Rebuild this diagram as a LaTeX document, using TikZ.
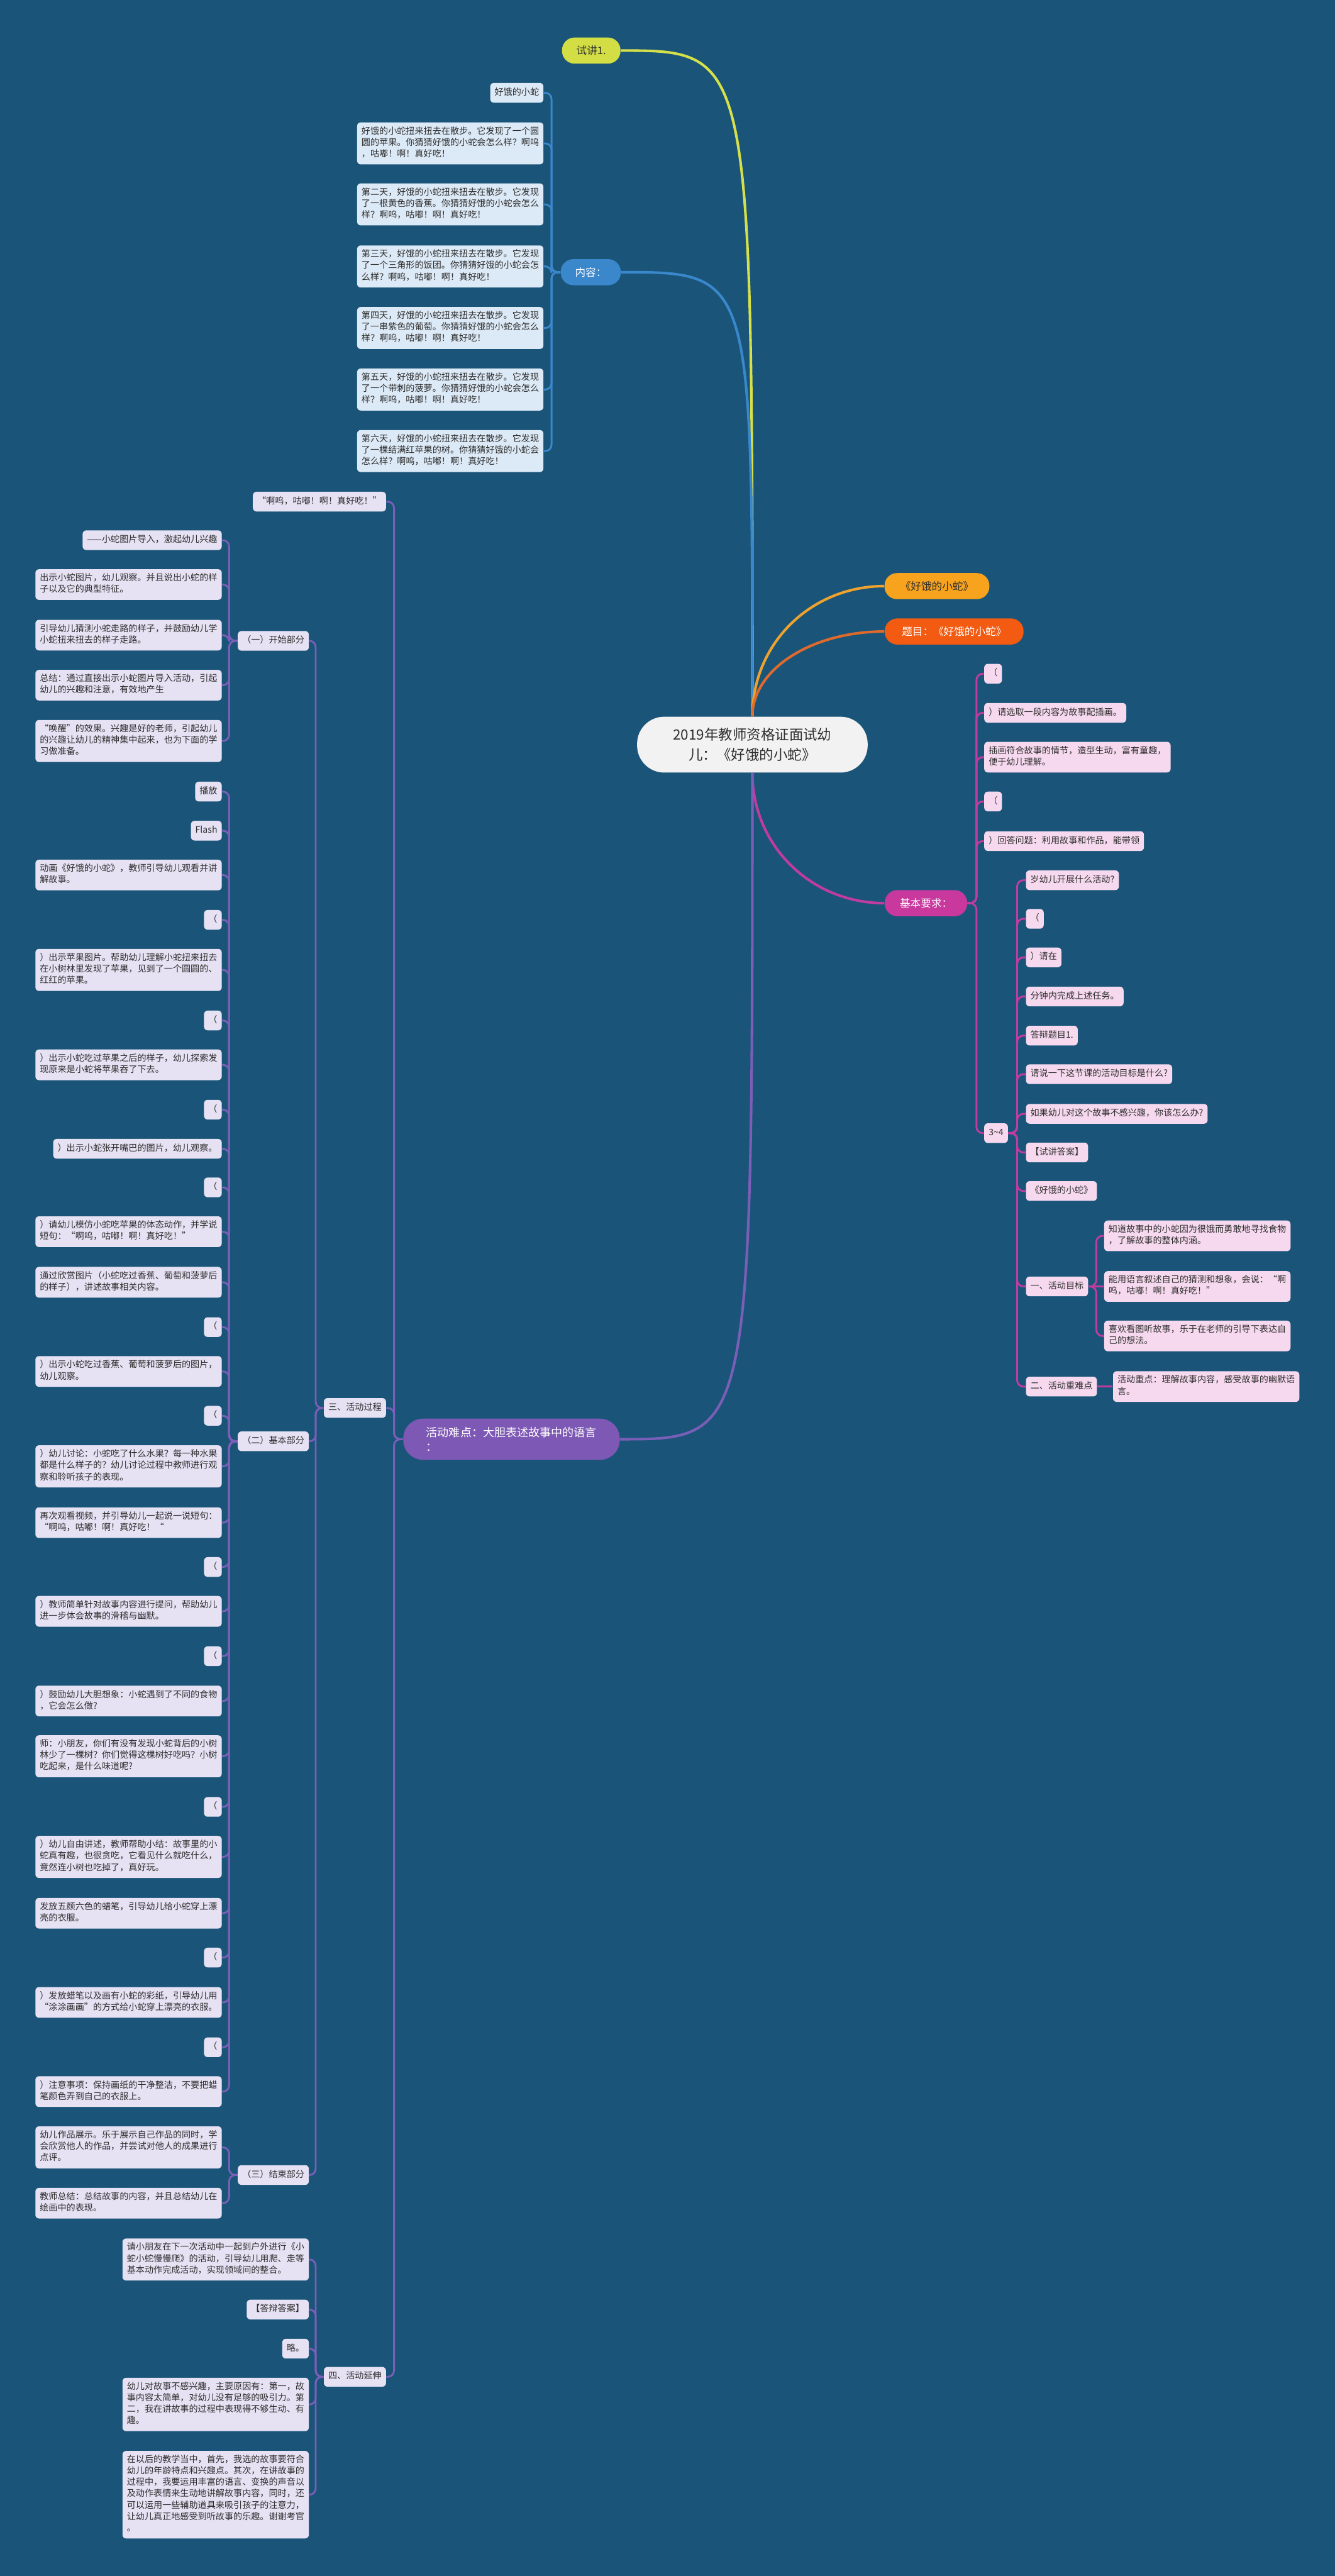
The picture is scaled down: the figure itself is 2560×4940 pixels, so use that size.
\documentclass[tikz,border=0pt]{standalone}
\usepackage{fontspec}
\setmainfont{Noto Sans CJK SC}

\definecolor{bgblue}{HTML}{1A5579}
\definecolor{rootfill}{HTML}{F2F2F2}
\definecolor{textdark}{HTML}{2E2E2E}
\definecolor{limefill}{HTML}{D3DE44}
\definecolor{limeline}{HTML}{D6E04A}
\definecolor{bluebranch}{HTML}{3A87CC}
\definecolor{orangefill}{HTML}{F8A31D}
\definecolor{orangeline}{HTML}{EFA22E}
\definecolor{redfill}{HTML}{F35A12}
\definecolor{redline}{HTML}{E06A2C}
\definecolor{magentafill}{HTML}{C9389D}
\definecolor{magentaline}{HTML}{C13C9E}
\definecolor{purplefill}{HTML}{7D58B4}
\definecolor{purpleline}{HTML}{7A5EB7}
\definecolor{bluefill}{HTML}{DCE9F6}
\definecolor{pinkfill}{HTML}{F6D9EE}
\definecolor{lilacfill}{HTML}{E6E1F3}

\begin{document}
\begin{tikzpicture}[
    x=0.01cm,
    y=-0.01cm,
    root/.style={
        fill=rootfill,
        text=textdark,
        rounded corners=0.52cm,
        align=center,
        inner sep=0pt,
        minimum width=4.42cm,
        minimum height=1.07cm,
        font=\fontsize{7.7}{11.1}\selectfont
    },
    branch/.style={
        text=white,
        rounded corners=0.24cm,
        inner sep=0pt,
        minimum height=0.5cm,
        font=\fontsize{5.7}{7}\selectfont
    },
    leaf/.style={
        rounded corners=0.07cm,
        inner xsep=0.085cm,
        inner ysep=0.08cm,
        align=left,
        text=textdark,
        font=\fontsize{4.84}{6.2}\selectfont,
        execute at begin node=\strut,
        execute at end node=\strut
    },
    blueleaf/.style={leaf, fill=bluefill, anchor=east},
    pinkleaf/.style={leaf, fill=pinkfill, anchor=west},
    lilacleaf/.style={leaf, fill=lilacfill, anchor=east},
    stem/.style={line width=1.4pt},
    link/.style={line width=1pt, rounded corners=0.12cm}
]
    % canvas
    \fill[bgblue] (0,0) rectangle (2560,4940);
    \useasboundingbox (0,0) rectangle (2560,4940);

    % centre
    \node[root] (title) at (1443,1428) {2019年教师资格证面试幼\\儿：《好饿的小蛇》};

    % main branches
    \node[branch,fill=limefill,text=textdark,minimum width=1.12cm] (shijiang) at (1134,97) {试讲1.};
    \node[branch,fill=bluebranch,minimum width=1.15cm] (neirong) at (1133,522) {内容：};
    \node[branch,fill=orangefill,text=textdark,minimum width=2.01cm] (book) at (1797,1124) {《好饿的小蛇》};
    \node[branch,fill=redfill,minimum width=2.66cm] (timu) at (1830,1211) {题目：《好饿的小蛇》};
    \node[branch,fill=magentafill,minimum width=1.58cm] (yaoqiu) at (1776,1732) {基本要求：};
    \node[branch,fill=purplefill,rounded corners=0.38cm,minimum width=4.15cm,minimum height=0.79cm,
        align=left,font=\fontsize{6.2}{8}\selectfont] (nandian) at (981,2760) {活动难点：大胆表述故事中的语言\\：};

    % story (blue)
    \node[blueleaf] (n1) at (1043,178) {好饿的小蛇};
    \node[blueleaf] (n2) at (1043,275) {好饿的小蛇扭来扭去在散步。它发现了一个圆\\圆的苹果。你猜猜好饿的小蛇会怎么样？啊呜\\，咕嘟！啊！真好吃！};
    \node[blueleaf] (n3) at (1043,392) {第二天，好饿的小蛇扭来扭去在散步。它发现\\了一根黄色的香蕉。你猜猜好饿的小蛇会怎么\\样？啊呜，咕嘟！啊！真好吃！};
    \node[blueleaf] (n4) at (1043,511) {第三天，好饿的小蛇扭来扭去在散步。它发现\\了一个三角形的饭团。你猜猜好饿的小蛇会怎\\么样？啊呜，咕嘟！啊！真好吃！};
    \node[blueleaf] (n5) at (1043,629) {第四天，好饿的小蛇扭来扭去在散步。它发现\\了一串紫色的葡萄。你猜猜好饿的小蛇会怎么\\样？啊呜，咕嘟！啊！真好吃！};
    \node[blueleaf] (n6) at (1043,747) {第五天，好饿的小蛇扭来扭去在散步。它发现\\了一个带刺的菠萝。你猜猜好饿的小蛇会怎么\\样？啊呜，咕嘟！啊！真好吃！};
    \node[blueleaf] (n7) at (1043,865) {第六天，好饿的小蛇扭来扭去在散步。它发现\\了一棵结满红苹果的树。你猜猜好饿的小蛇会\\怎么样？啊呜，咕嘟！啊！真好吃！};

    % requirements (pink)
    \node[pinkleaf] (r1) at (1887,1292) {（};
    \node[pinkleaf] (r2) at (1887,1367) {）请选取一段内容为故事配插画。};
    \node[pinkleaf] (r3) at (1887,1452) {插画符合故事的情节，造型生动，富有童趣，\\便于幼儿理解。};
    \node[pinkleaf] (r4) at (1887,1537) {（};
    \node[pinkleaf] (r5) at (1887,1613) {）回答问题：利用故事和作品，能带领};
    \node[pinkleaf] (age) at (1887,2173) {3\textasciitilde4};

    \node[pinkleaf] (a1) at (1967,1688) {岁幼儿开展什么活动?};
    \node[pinkleaf] (a2) at (1967,1762) {（};
    \node[pinkleaf] (a3) at (1967,1836) {）请在};
    \node[pinkleaf] (a4) at (1967,1911) {分钟内完成上述任务。};
    \node[pinkleaf] (a5) at (1967,1986) {答辩题目1.};
    \node[pinkleaf] (a6) at (1967,2060) {请说一下这节课的活动目标是什么?};
    \node[pinkleaf] (a7) at (1967,2136) {如果幼儿对这个故事不感兴趣，你该怎么办?};
    \node[pinkleaf] (a8) at (1967,2210) {【试讲答案】};
    \node[pinkleaf] (a9) at (1967,2284) {《好饿的小蛇》};
    \node[pinkleaf] (mubiao) at (1967,2467) {一、活动目标};
    \node[pinkleaf] (zhongdian) at (1967,2659) {二、活动重难点};

    \node[pinkleaf] (g1) at (2117,2370) {知道故事中的小蛇因为很饿而勇敢地寻找食物\\，了解故事的整体内涵。};
    \node[pinkleaf] (g2) at (2117,2467) {能用语言叙述自己的猜测和想象，会说：“啊\\呜，咕嘟！啊！真好吃！”};
    \node[pinkleaf] (g3) at (2117,2562) {喜欢看图听故事，乐于在老师的引导下表达自\\己的想法。};
    \node[pinkleaf] (z1) at (2134,2659) {活动重点：理解故事内容，感受故事的幽默语\\言。};

    % lesson (lilac)
    \node[lilacleaf] (k0) at (741,962) {“啊呜，咕嘟！啊！真好吃！”};
    \node[lilacleaf] (guocheng) at (741,2700) {三、活动过程};
    \node[lilacleaf] (yanshen) at (741,4558) {四、活动延伸};

    \node[lilacleaf] (s1) at (593,1229) {（一）开始部分};
    \node[lilacleaf] (s2) at (593,2764) {（二）基本部分};
    \node[lilacleaf] (s3) at (593,4171) {（三）结束部分};

    \node[lilacleaf] (p1) at (426,1036) {——小蛇图片导入，激起幼儿兴趣};
    \node[lilacleaf] (p2) at (426,1121) {出示小蛇图片，幼儿观察。并且说出小蛇的样\\子以及它的典型特征。};
    \node[lilacleaf] (p3) at (426,1218) {引导幼儿猜测小蛇走路的样子，并鼓励幼儿学\\小蛇扭来扭去的样子走路。};
    \node[lilacleaf] (p4) at (426,1314) {总结：通过直接出示小蛇图片导入活动，引起\\幼儿的兴趣和注意，有效地产生};
    \node[lilacleaf] (p5) at (426,1421) {“唤醒”的效果。兴趣是好的老师，引起幼儿\\的兴趣让幼儿的精神集中起来，也为下面的学\\习做准备。};

    \node[lilacleaf] (b1) at (426,1518) {播放};
    \node[lilacleaf] (b2) at (426,1593) {Flash};
    \node[lilacleaf] (b3) at (426,1678) {动画《好饿的小蛇》，教师引导幼儿观看并讲\\解故事。};
    \node[lilacleaf] (b4) at (426,1764) {（};
    \node[lilacleaf] (b5) at (426,1860) {）出示苹果图片。帮助幼儿理解小蛇扭来扭去\\在小树林里发现了苹果，见到了一个圆圆的、\\红红的苹果。};
    \node[lilacleaf] (b6) at (426,1957) {（};
    \node[lilacleaf] (b7) at (426,2042) {）出示小蛇吃过苹果之后的样子，幼儿探索发\\现原来是小蛇将苹果吞了下去。};
    \node[lilacleaf] (b8) at (426,2128) {（};
    \node[lilacleaf] (b9) at (426,2203) {）出示小蛇张开嘴巴的图片，幼儿观察。};
    \node[lilacleaf] (b10) at (426,2277) {（};
    \node[lilacleaf] (b11) at (426,2362) {）请幼儿模仿小蛇吃苹果的体态动作，并学说\\短句：“啊呜，咕嘟！啊！真好吃！”};
    \node[lilacleaf] (b12) at (426,2459) {通过欣赏图片（小蛇吃过香蕉、葡萄和菠萝后\\的样子），讲述故事相关内容。};
    \node[lilacleaf] (b13) at (426,2545) {（};
    \node[lilacleaf] (b14) at (426,2630) {）出示小蛇吃过香蕉、葡萄和菠萝后的图片，\\幼儿观察。};
    \node[lilacleaf] (b15) at (426,2715) {（};
    \node[lilacleaf] (b16) at (426,2812) {）幼儿讨论：小蛇吃了什么水果？每一种水果\\都是什么样子的？幼儿讨论过程中教师进行观\\察和聆听孩子的表现。};
    \node[lilacleaf] (b17) at (426,2920) {再次观看视频，并引导幼儿一起说一说短句：\\“啊呜，咕嘟！啊！真好吃！“};
    \node[lilacleaf] (b18) at (426,3005) {（};
    \node[lilacleaf] (b19) at (426,3090) {）教师简单针对故事内容进行提问，帮助幼儿\\进一步体会故事的滑稽与幽默。};
    \node[lilacleaf] (b20) at (426,3176) {（};
    \node[lilacleaf] (b21) at (426,3262) {）鼓励幼儿大胆想象：小蛇遇到了不同的食物\\，它会怎么做?};
    \node[lilacleaf] (b22) at (426,3368) {师：小朋友，你们有没有发现小蛇背后的小树\\林少了一棵树？你们觉得这棵树好吃吗？小树\\吃起来，是什么味道呢?};
    \node[lilacleaf] (b23) at (426,3465) {（};
    \node[lilacleaf] (b24) at (426,3561) {）幼儿自由讲述，教师帮助小结：故事里的小\\蛇真有趣，也很贪吃，它看见什么就吃什么，\\竟然连小树也吃掉了，真好玩。};
    \node[lilacleaf] (b25) at (426,3669) {发放五颜六色的蜡笔，引导幼儿给小蛇穿上漂\\亮的衣服。};
    \node[lilacleaf] (b26) at (426,3754) {（};
    \node[lilacleaf] (b27) at (426,3840) {）发放蜡笔以及画有小蛇的彩纸，引导幼儿用\\“涂涂画画”的方式给小蛇穿上漂亮的衣服。};
    \node[lilacleaf] (b28) at (426,3926) {（};
    \node[lilacleaf] (b29) at (426,4011) {）注意事项：保持画纸的干净整洁，不要把蜡\\笔颜色弄到自己的衣服上。};

    \node[lilacleaf] (e1) at (426,4118) {幼儿作品展示。乐于展示自己作品的同时，学\\会欣赏他人的作品，并尝试对他人的成果进行\\点评。};
    \node[lilacleaf] (e2) at (426,4225) {教师总结：总结故事的内容，并且总结幼儿在\\绘画中的表现。};

    \node[lilacleaf] (y1) at (593,4333) {请小朋友在下一次活动中一起到户外进行《小\\蛇小蛇慢慢爬》的活动，引导幼儿用爬、走等\\基本动作完成活动，实现领域间的整合。};
    \node[lilacleaf] (y2) at (593,4429) {【答辩答案】};
    \node[lilacleaf] (y3) at (593,4504) {略。};
    \node[lilacleaf] (y4) at (593,4611) {幼儿对故事不感兴趣，主要原因有：第一，故\\事内容太简单，对幼儿没有足够的吸引力。第\\二，我在讲故事的过程中表现得不够生动、有\\趣。};
    \node[lilacleaf] (y5) at (593,4784) {在以后的教学当中，首先，我选的故事要符合\\幼儿的年龄特点和兴趣点。其次，在讲故事的\\过程中，我要运用丰富的语言、变换的声音以\\及动作表情来生动地讲解故事内容，同时，还\\可以运用一些辅助道具来吸引孩子的注意力，\\让幼儿真正地感受到听故事的乐趣。谢谢考官\\。};

    % stems from the centre
    \draw[stem,limeline] (title.north) .. controls (title.north |- shijiang.east) .. (shijiang.east);
    \draw[stem,bluebranch] (title.north) .. controls (title.north |- neirong.east) .. (neirong.east);
    \draw[stem,orangeline] (title.north) .. controls +(0,-140) and +(-140,0) .. (book.west);
    \draw[stem,redline] (title.north) .. controls +(0,-90) and +(-140,0) .. (timu.west);
    \draw[stem,magentaline] (title.south) .. controls +(0,140) and +(-140,0) .. (yaoqiu.west);
    \draw[stem,purpleline] (title.south) .. controls (title.south |- nandian.east) .. (nandian.east);

    % links
    \foreach \i in {1,...,7}
        \draw[link,bluebranch] (neirong.west) -- ++(-17,0) |- (n\i.east);
    \foreach \n in {r1,r2,r3,r4,r5,age}
        \draw[link,magentaline] (yaoqiu.east) -- ++(17,0) |- (\n.west);
    \foreach \n in {a1,a2,a3,a4,a5,a6,a7,a8,a9,mubiao,zhongdian}
        \draw[link,magentaline] (age.east) -- ++(17,0) |- (\n.west);
    \draw[link,magentaline] (mubiao.east) -- ++(15,0) |- (g1.west);
    \draw[link,magentaline] (mubiao.east) -- (g2.west);
    \draw[link,magentaline] (mubiao.east) -- ++(15,0) |- (g3.west);
    \draw[link,magentaline] (zhongdian.east) -- (z1.west);

    \foreach \n in {k0,guocheng,yanshen}
        \draw[link,purpleline] (nandian.west) -- ++(-17,0) |- (\n.east);
    \foreach \i in {1,2,3}
        \draw[link,purpleline] (guocheng.west) -- ++(-15,0) |- (s\i.east);
    \foreach \i in {1,...,5}
        \draw[link,purpleline] (s1.west) -- ++(-16,0) |- (p\i.east);
    \foreach \i in {1,...,29}
        \draw[link,purpleline] (s2.west) -- ++(-16,0) |- (b\i.east);
    \foreach \i in {1,2}
        \draw[link,purpleline] (s3.west) -- ++(-16,0) |- (e\i.east);
    \foreach \i in {1,...,5}
        \draw[link,purpleline] (yanshen.west) -- ++(-15,0) |- (y\i.east);
\end{tikzpicture}
\end{document}
